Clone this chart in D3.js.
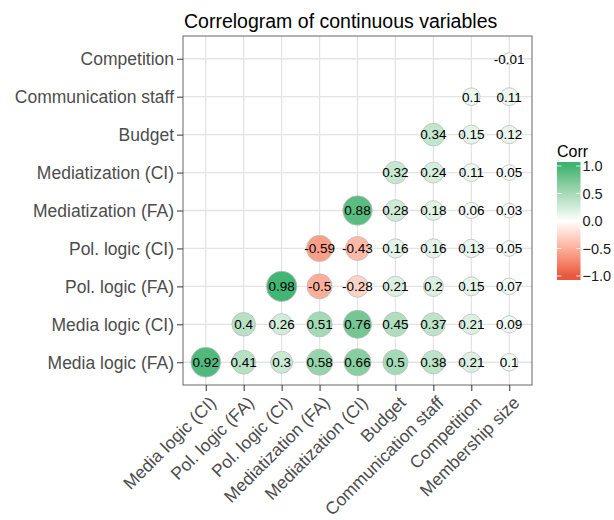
<!DOCTYPE html>
<html>
<head>
<meta charset="utf-8">
<script src="https://cdn.jsdelivr.net/npm/d3@7"></script>
<style>
  body { margin: 0; background: #fff; }
  svg text { font-family: "Liberation Sans", Arial, sans-serif; }
</style>
</head>
<body>
<svg id="chart" width="614" height="520"></svg>
<script>
// 列 (x) と行 (y) の変数名
const colVars = ["Media logic (CI)", "Pol. logic (FA)", "Pol. logic (CI)", "Mediatization (FA)",
  "Mediatization (CI)", "Budget", "Communication staff", "Competition", "Membership size"];
const rowVars = ["Media logic (FA)", "Media logic (CI)", "Pol. logic (FA)", "Pol. logic (CI)",
  "Mediatization (FA)", "Mediatization (CI)", "Budget", "Communication staff", "Competition"];

// 相関係数 (行ごと、列の順、null は空セル)
const rMediaFA  = [0.92, 0.41, 0.3, 0.58, 0.66, 0.5, 0.38, 0.21, 0.1];
const rMediaCI  = [null, 0.4, 0.26, 0.51, 0.76, 0.45, 0.37, 0.21, 0.09];
const rPolFA    = [null, null, 0.98, -0.5, -0.28, 0.21, 0.2, 0.15, 0.07];
const rPolCI    = [null, null, null, -0.59, -0.43, 0.16, 0.16, 0.13, 0.05];
const rMedzFA   = [null, null, null, null, 0.88, 0.28, 0.18, 0.06, 0.03];
const rMedzCI   = [null, null, null, null, null, 0.32, 0.24, 0.11, 0.05];
const rBudget   = [null, null, null, null, null, null, 0.34, 0.15, 0.12];
const rComm     = [null, null, null, null, null, null, null, 0.1, 0.11];
const rCompet   = [null, null, null, null, null, null, null, null, -0.01];
const corrRows = [rMediaFA, rMediaCI, rPolFA, rPolCI, rMedzFA, rMedzCI, rBudget, rComm, rCompet];

const legendTicks = [1.0, 0.5, 0.0, -0.5, -1.0];

const svg = d3.select("#chart");
const margin = {top: 36, left: 183, right: 82, bottom: 135};
const W = 614, H = 520;
const axisFont = 17.5;

// セルを組み立てる
const cells = [];
corrRows.forEach((row, i) => {
  row.forEach((v, j) => {
    if (v !== null) cells.push({x: colVars[j], y: rowVars[i], v: v});
  });
});

// スケール
const x = d3.scalePoint().domain(colVars)
  .range([margin.left, W - margin.right]).padding(0.6);
const y = d3.scalePoint().domain(rowVars)
  .range([H - margin.bottom, margin.top]).padding(0.6);

const color = d3.scaleLinear().domain([-1, 0, 1])
  .range(["#E8563F", "#ffffff", "#3CB371"])
  .interpolate(d3.interpolateLab);

// scale_size と同じく 0-1 に再スケールしてから sqrt
const absExt = d3.extent(cells, d => Math.abs(d.v));
const rescale = d3.scaleLinear().domain(absExt).range([0, 1]);
const area = d3.scaleSqrt().domain([0, 1]).range([6, 15.2]);
const radius = v => area(rescale(Math.abs(v)));

// グリッド
const grid = svg.append("g");
grid.selectAll("line.gx").data(colVars).enter().append("line")
  .attr("x1", d => x(d)).attr("x2", d => x(d))
  .attr("y1", margin.top).attr("y2", H - margin.bottom)
  .attr("stroke", "#E4E4E4").attr("stroke-width", 1.3);
grid.selectAll("line.gy").data(rowVars).enter().append("line")
  .attr("y1", d => y(d)).attr("y2", d => y(d))
  .attr("x1", margin.left).attr("x2", W - margin.right)
  .attr("stroke", "#E4E4E4").attr("stroke-width", 1.3);

// 円
svg.append("g").selectAll("circle").data(cells).enter().append("circle")
  .attr("cx", d => x(d.x)).attr("cy", d => y(d.y))
  .attr("r", d => radius(d.v))
  .attr("fill", d => color(d.v))
  .attr("stroke", "#BEBEBE").attr("stroke-width", 0.8);

// 数値ラベル
svg.append("g").selectAll("text").data(cells).enter().append("text")
  .attr("x", d => x(d.x)).attr("y", d => y(d.y))
  .attr("dy", "0.36em").attr("text-anchor", "middle")
  .attr("font-size", 13.5).attr("fill", "#000")
  .text(d => String(d.v));

// パネル枠
svg.append("rect")
  .attr("x", margin.left).attr("y", margin.top)
  .attr("width", W - margin.left - margin.right)
  .attr("height", H - margin.top - margin.bottom)
  .attr("fill", "none").attr("stroke", "#666").attr("stroke-width", 1);

// y 軸
const yAxis = svg.append("g")
  .attr("transform", `translate(${margin.left},0)`)
  .call(d3.axisLeft(y).tickSize(6).tickPadding(3));
yAxis.select(".domain").remove();
yAxis.selectAll("line").attr("stroke", "#333");
yAxis.selectAll("text").attr("font-size", axisFont).attr("fill", "#4D4D4D")
  .attr("font-family", "Liberation Sans, Arial, sans-serif")
  .attr("dy", "0.34em");

// x 軸
const xAxis = svg.append("g")
  .attr("transform", `translate(0,${H - margin.bottom})`)
  .call(d3.axisBottom(x).tickSize(6).tickPadding(3));
xAxis.select(".domain").remove();
xAxis.selectAll("line").attr("stroke", "#333");
xAxis.selectAll("text")
  .attr("font-size", axisFont).attr("fill", "#4D4D4D")
  .attr("font-family", "Liberation Sans, Arial, sans-serif")
  .attr("text-anchor", "end")
  .attr("x", 0).attr("y", 0)
  .attr("dy", "0.72em")
  .attr("transform", "translate(2,10) rotate(-45)");

// タイトル
svg.append("text")
  .attr("x", margin.left + 1).attr("y", 28)
  .attr("font-size", 19.5).attr("fill", "#000")
  .text("Correlogram of continuous variables");

// 凡例
const lg = svg.append("g");
const ly = d3.scaleLinear().domain([-1, 1]).range([276, 166]);
const lx = 557, lw = 23.5;
lg.append("text").attr("x", lx).attr("y", 157)
  .attr("font-size", 16).attr("fill", "#000").text("Corr");
const defs = svg.append("defs");
const grad = defs.append("linearGradient").attr("id", "lgrad")
  .attr("x1", 0).attr("x2", 0).attr("y1", 1).attr("y2", 0);
d3.range(0, 41).forEach(k => {
  const t = k / 40;
  const v = -1.07 + t * 2.14;
  grad.append("stop").attr("offset", t)
    .attr("stop-color", color(Math.max(-1, Math.min(1, v))));
});
lg.append("rect").attr("x", lx).attr("y", ly(1) - 4)
  .attr("width", lw).attr("height", ly(-1) - ly(1) + 8)
  .attr("fill", "url(#lgrad)");
lg.selectAll("line.tl").data(legendTicks).enter().append("line")
  .attr("x1", lx).attr("x2", lx + 4.5)
  .attr("y1", d => ly(d)).attr("y2", d => ly(d))
  .attr("stroke", "#fff").attr("stroke-width", 0.8);
lg.selectAll("line.tr").data(legendTicks).enter().append("line")
  .attr("x1", lx + lw - 4.5).attr("x2", lx + lw)
  .attr("y1", d => ly(d)).attr("y2", d => ly(d))
  .attr("stroke", "#fff").attr("stroke-width", 0.8);
lg.selectAll("text.lab").data(legendTicks).enter().append("text")
  .attr("x", lx + lw + 2).attr("y", d => ly(d))
  .attr("dy", "0.36em").attr("font-size", 14.5).attr("fill", "#1a1a1a")
  .text(d => d3.format(".1f")(d));
</script>
</body>
</html>
